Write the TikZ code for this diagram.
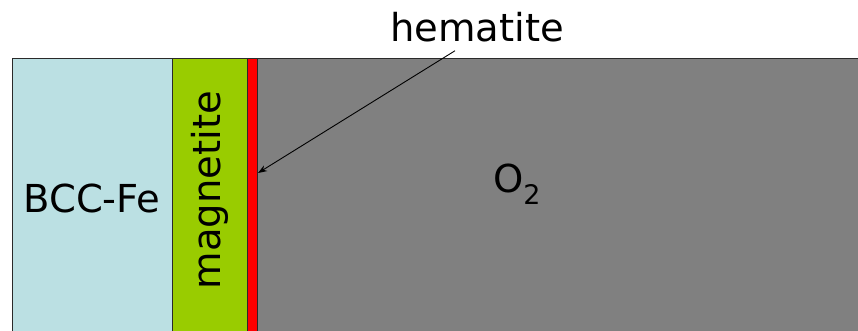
\documentclass[tikz,border=0pt]{standalone}
\usepackage{fontspec}
\setmainfont{DejaVu Sans}
\usetikzlibrary{arrows.meta}
\definecolor{bccfill}{HTML}{BBE0E3}
\definecolor{magfill}{HTML}{99CC00}
\definecolor{hemfill}{HTML}{FF0000}
\definecolor{gasfill}{HTML}{808080}
\definecolor{edge}{HTML}{2A2A2A}
\tikzset{
  region/.style={draw=edge, line width=1pt, inner sep=0pt, outer sep=0pt, anchor=north west},
  lbl/.style={inner sep=0pt, font=\fontsize{38.5}{46}\selectfont, text=black},
  pointer/.style={-{Stealth[length=9pt,width=6.5pt]}, line width=0.9pt, draw=black}
}
\begin{document}
\begin{tikzpicture}[x=1pt,y=-1pt]
\useasboundingbox (0,0) rectangle (858,331);
\clip (0,0) rectangle (858,331);
\node[region, fill=bccfill, minimum width=160pt, minimum height=285pt] (fe) at (12,59) {};
\node[region, fill=magfill, minimum width=75pt, minimum height=285pt] (mag) at (172,59) {};
\node[region, fill=hemfill, minimum width=10pt, minimum height=285pt] (hem) at (247,59) {};
\node[region, fill=gasfill, minimum width=610pt, minimum height=285pt] (gas) at (257,59) {};
\node[lbl] (fetext) at (92,198) {BCC-Fe};
\node[lbl, rotate=90] (magtext) at (210,190) {magnetite};
\node[lbl] (gastext) at (517,184) {O\textsubscript{2}};
\node[lbl, anchor=base] (hemlbl) at (477,42) {hematite};
\coordinate (tip) at (258,173);
\draw[pointer] ([xshift=-22pt,yshift=-8pt]hemlbl.south) -- (tip);
\end{tikzpicture}
\end{document}
